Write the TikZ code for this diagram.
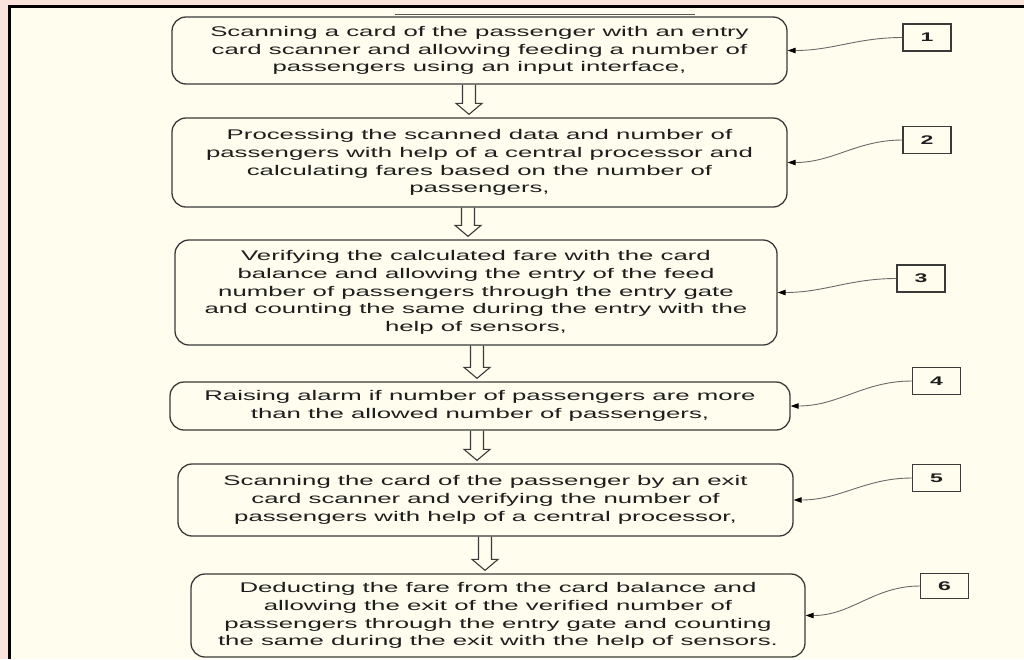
\documentclass[tikz,border=0pt]{standalone}
\usepackage{fontspec}
\setmainfont{Liberation Sans}[FakeStretch=1.84]
\usetikzlibrary{arrows.meta,calc}
\definecolor{pinkbg}{HTML}{FBE2DA}
\definecolor{creambg}{HTML}{FFFDEE}
\definecolor{boxline}{HTML}{3A3A3A}
\definecolor{txt}{HTML}{1E1E1E}
\definecolor{connc}{HTML}{6A6A6A}
\begin{document}
\begin{tikzpicture}[x=1pt,y=-1pt,
  stepbox/.style={draw=boxline, line width=1.3pt, rounded corners=14pt, fill=creambg,
    align=center, text=txt, inner sep=0pt, font=\fontsize{14}{17.8}\selectfont},
  numbox/.style={draw=boxline, line width=1.3pt, minimum width=48pt, minimum height=27pt,
    inner sep=0pt, fill=creambg, text=txt, font=\fontsize{12.5}{14}\selectfont\bfseries},
  conn/.style={draw=connc, line width=0.9pt, -{Triangle[length=8pt,width=5.5pt,color=black]}},
  dblarrow/.style={draw=boxline, line width=1.1pt,
    to path={let \p1=(\tikztostart), \p2=(\tikztotarget) in
      (\x1-6.5pt,\y1) -- (\x1-6.5pt,\y2+14pt) -- (\x1-13pt,\y2+14pt) -- (\x1,\y2+3pt)
      -- (\x1+13pt,\y2+14pt) -- (\x1+6.5pt,\y2+14pt) -- (\x1+6.5pt,\y1)}}
]
\useasboundingbox (0,0) rectangle (1024,659);
% background and frame
\fill[pinkbg] (0,0) rectangle (1024,659);
\fill[creambg] (9.5,6.5) rectangle (1024,659);
\draw[black, line width=3pt] (9.5,659) -- (9.5,6.5) -- (1024,6.5);
\draw[gray!70!black, line width=0.9pt] (395,14) -- (695,14);

% step boxes
\node[stepbox, minimum width=615pt, minimum height=67pt] (b1) at (479.5,50.5)
  {Scanning a card of the passenger with an entry\\card scanner and allowing feeding a number of\\passengers using an input interface,};
\node[stepbox, minimum width=615pt, minimum height=89pt] (b2) at (479.5,162.5)
  {Processing the scanned data and number of\\passengers with help of a central processor and\\calculating fares based on the number of\\passengers,};
\node[stepbox, minimum width=602pt, minimum height=105pt] (b3) at (476,292.5)
  {Verifying the calculated fare with the card\\balance and allowing the entry of the feed\\number of passengers through the entry gate\\and counting the same during the entry with the\\help of sensors,};
\node[stepbox, minimum width=620pt, minimum height=48pt] (b4) at (480,406)
  {Raising alarm if number of passengers are more\\than the allowed number of passengers,};
\node[stepbox, minimum width=615pt, minimum height=72pt] (b5) at (485.5,500)
  {Scanning the card of the passenger by an exit\\card scanner and verifying the number of\\passengers with help of a central processor,};
\node[stepbox, minimum width=614pt, minimum height=83pt] (b6) at (498,615.5)
  {Deducting the fare from the card balance and\\allowing the exit of the verified number of\\passengers through the entry gate and counting\\the same during the exit with the help of sensors.};

% number boxes
\node[numbox] (n1) at (927,37.5) {1};
\node[numbox] (n2) at (927,140) {2};
\node[numbox] (n3) at (921,278.5) {3};
\node[numbox] (n4) at (936.5,381) {4};
\node[numbox] (n5) at (936.5,478) {5};
\node[numbox, minimum height=25pt] (n6) at (944.5,586) {6};

% hollow arrows between steps
\draw[dblarrow] (b1.south -| 469,0) to (b2.north -| 469,0);
\draw[dblarrow] (b2.south -| 468,0) to (b3.north -| 468,0);
\draw[dblarrow] (b3.south -| 477,0) to (b4.north -| 477,0);
\draw[dblarrow] (b4.south -| 477,0) to (b5.north -| 477,0);
\draw[dblarrow] (b5.south -| 485,0) to (b6.north -| 485,0);

% reference connectors
\draw[conn] (n1.west) to[out=180,in=0] (b1.east);
\draw[conn] (n2.west) to[out=180,in=0] (b2.east);
\draw[conn] (n3.west) to[out=180,in=0] (b3.east);
\draw[conn] (n4.west) to[out=180,in=0] (b4.east);
\draw[conn] (n5.west) to[out=180,in=0] (b5.east);
\draw[conn] (n6.west) to[out=180,in=0] (b6.east);
\end{tikzpicture}
\end{document}
